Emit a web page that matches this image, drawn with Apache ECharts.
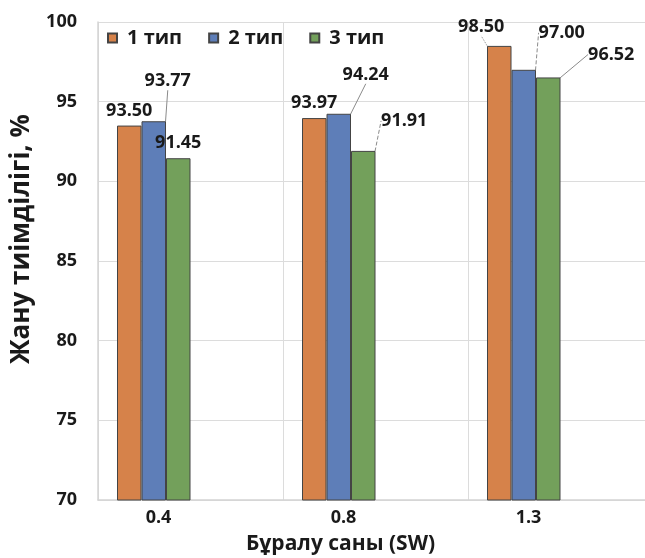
<!DOCTYPE html>
<html>
<head>
<meta charset="utf-8">
<script src="https://cdn.jsdelivr.net/npm/echarts@6/dist/echarts.min.js"></script>
<style>
html,body{margin:0;padding:0;background:#fff;}
#chart{width:645px;height:558px;}
</style>
</head>
<body>
<div id="chart"></div>
<script>
const categories = ['0.4', '0.8', '1.3'];
const seriesNames = ['1 тип', '2 тип', '3 тип'];
const type1 = [93.50, 93.97, 98.50];
const type2 = [93.77, 94.24, 97.00];
const type3 = [91.45, 91.91, 96.52];
const yMin = 70, yMax = 100, yStep = 5;
const xTitle = 'Бұралу саны (SW)';
const yTitle = 'Жану тиімділігі, %';

const colors = ['#D6824A', '#5E7EB8', '#73A05B'];
// label displacement (px) and leader style, per series / category
const labelShift = [
  [null, null, [-18, -4]],
  [[14, -25], [27, -24], [38, -22]],
  [null, [41, -15], [63, -8]]
];
const leaderType = [
  [null, null, 'dotted'],
  ['solid', 'solid', 'dashed'],
  [null, 'dashed', 'solid']
];

const FONT = "'Open Sans', 'DejaVu Sans', sans-serif";
const values = [type1, type2, type3];

const chart = echarts.init(document.getElementById('chart'), null, {renderer: 'canvas'});

const realSeries = values.map((vals, s) => ({
  name: seriesNames[s],
  type: 'bar',
  barWidth: 24.5,
  barGap: 0,
  itemStyle: {color: colors[s], borderColor: '#444', borderWidth: 1},
  label: {
    show: true, position: 'top', distance: 6,
    fontFamily: FONT, fontWeight: 'bold', fontSize: 18, color: '#1a1a1a',
    formatter: p => p.value.toFixed(2)
  },
  labelLine: {show: true, lineStyle: {color: '#8a8a8a', width: 1}},
  labelLayout: function (params) {
    const sh = labelShift[s][params.dataIndex];
    return sh ? {dx: sh[0], dy: sh[1]} : {};
  },
  data: vals.map((v, i) => ({
    value: v,
    labelLine: leaderType[s][i]
      ? {show: true, lineStyle: {type: leaderType[s][i], color: '#8a8a8a', width: 1}}
      : {show: false}
  }))
}));

// empty placeholder slots so the group sits left within each category band
const spacers = [0, 1, 2].map(k => ({
  name: '_sp' + k, type: 'bar', barWidth: 24.5, barGap: 0,
  data: categories.map(() => '-'), silent: true
}));

chart.setOption({
  animation: false,
  textStyle: {fontFamily: FONT},
  legend: {
    data: seriesNames,
    left: 102, top: 23,
    itemWidth: 9, itemHeight: 9, itemGap: 26,
    icon: 'rect',
    textStyle: {fontFamily: FONT, fontWeight: 'bold', fontSize: 20, color: '#1a1a1a', padding: [0, 0, 0, 5]}
  },
  grid: {left: 98, width: 555, top: 22, bottom: 58, containLabel: false, outerBoundsMode: 'none'},
  xAxis: {
    type: 'category',
    data: categories,
    axisLine: {show: true, lineStyle: {color: '#d4d4d4', width: 1.5}},
    axisTick: {show: false},
    splitLine: {show: true, lineStyle: {color: '#dcdcdc', width: 1}},
    axisLabel: {
      fontFamily: FONT, fontWeight: 'bold', fontSize: 18, color: '#1a1a1a',
      margin: 9, padding: [0, 64, 0, 0]
    },
    name: xTitle,
    nameLocation: 'middle',
    nameGap: 34,
    nameTextStyle: {fontFamily: FONT, fontWeight: 'bold', fontSize: 21, color: '#1a1a1a', padding: [0, 70, 0, 0]}
  },
  yAxis: {
    type: 'value',
    min: yMin, max: yMax, interval: yStep,
    axisLine: {show: true, lineStyle: {color: '#d4d4d4', width: 1.5}},
    axisTick: {show: false},
    splitLine: {show: true, lineStyle: {color: '#dcdcdc', width: 1}},
    axisLabel: {fontFamily: FONT, fontWeight: 'bold', fontSize: 18, color: '#1a1a1a', margin: 21},
    name: yTitle,
    nameLocation: 'middle',
    nameRotate: 90,
    nameGap: 63,
    nameTextStyle: {fontFamily: FONT, fontWeight: 'bold', fontSize: 26, color: '#1a1a1a', padding: [0, 0, 0, 44]}
  },
  series: realSeries.concat(spacers)
});
</script>
</body>
</html>
